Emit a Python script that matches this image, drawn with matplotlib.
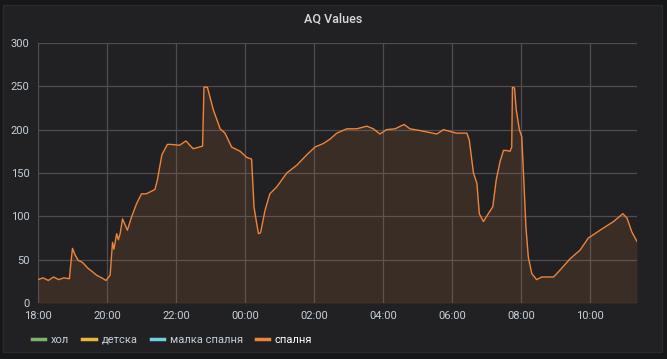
import matplotlib.pyplot as plt
from matplotlib.patches import Rectangle
from matplotlib.lines import Line2D

plt.rcParams['font.family'] = ['Roboto', 'DejaVu Sans']

# hours after 18:00 and AQ value for "спалня"
hours = [0.0, 0.15, 0.3, 0.45, 0.6, 0.75, 0.91, 0.95, 1.0, 1.08, 1.17, 1.24, 1.31, 1.45,
         1.58, 1.70, 1.85, 1.97, 2.09, 2.16, 2.20, 2.28, 2.33, 2.38, 2.45, 2.59, 2.71,
         2.86, 3.0, 3.14, 3.39, 3.46, 3.59, 3.75, 3.85, 4.1, 4.29, 4.4, 4.5, 4.77,
         4.81, 4.91, 5.08, 5.28, 5.42, 5.61, 5.86, 6.05, 6.19, 6.26, 6.32, 6.39, 6.45,
         6.58, 6.72, 6.92, 7.21, 7.5, 7.79, 8.03, 8.27, 8.46, 8.66, 8.95, 9.24, 9.53,
         9.72, 9.91, 10.1, 10.35, 10.61, 10.78, 11.07, 11.56, 11.75, 12.13, 12.43,
         12.5, 12.62, 12.72, 12.79, 12.91, 13.05, 13.18, 13.28, 13.39, 13.49, 13.58,
         13.68, 13.73, 13.75, 13.81, 13.86, 13.95, 14.02, 14.07, 14.14, 14.21, 14.31,
         14.45, 14.6, 14.94, 15.13, 15.42, 15.71, 15.95, 16.29, 16.68, 16.95, 17.07,
         17.21, 17.36]
spalnya = [27, 29, 26, 30, 27, 29, 28, 45, 63, 55, 49, 48, 46, 40,
           36, 32, 29, 26, 32, 70, 62, 80, 73, 80, 97, 84, 99,
           115, 126, 126, 131, 142, 171, 183, 183, 182, 187, 182, 178, 181,
           249, 249, 223, 201, 196, 180, 175, 168, 166, 111, 96, 80, 81,
           107, 126, 134, 150, 159, 171, 180, 184, 189, 196, 201, 201, 204,
           201, 195, 200, 201, 206, 201, 199, 195, 200, 196, 196,
           188, 150, 138, 103, 94, 103, 111, 142, 163, 176, 176,
           175, 180, 249, 248, 223, 200, 192, 150, 88, 53, 34,
           27, 30, 30, 38, 51, 61, 75, 84, 94, 103, 98,
           82, 71]

series = ["хол", "детска", "малка спалня", "спалня"]
colors = ["#7EB26D", "#EAB839", "#6ED0E0", "#EF843C"]
tick_hours = [0, 2, 4, 6, 8, 10, 12, 14, 16]
tick_labels = ["18:00", "20:00", "22:00", "00:00", "02:00", "04:00", "06:00", "08:00", "10:00"]

fig = plt.figure(figsize=(6.67, 3.59), dpi=100, facecolor="#161719")
panel = Rectangle((3 / 667, 7 / 359), 659 / 667, 347 / 359, transform=fig.transFigure,
                  facecolor="#212124", edgecolor="#2a2a2d", lw=1, zorder=-5)
fig.add_artist(panel)
ax = fig.add_axes([38 / 667, 1 - 303 / 359, 599 / 667, 260 / 359])
ax.set_zorder(1)
ax.set_facecolor("#212124")

ax.fill_between(hours, spalnya, 0, color=colors[3], alpha=0.12, lw=0)
ax.plot(hours, spalnya, color=colors[3], lw=1)

ax.set_xlim(0, 17.36)
ax.set_ylim(0, 300)
ax.set_yticks(range(0, 301, 50))
ax.set_xticks(tick_hours)
ax.set_xticklabels(tick_labels)
ax.grid(True, color="#4d4d52", lw=0.9)
ax.set_axisbelow(True)
for s in ax.spines.values():
    s.set_visible(False)
ax.tick_params(length=0, colors="#c7d0d9", labelsize=8, pad=6)

fig.text(0.5, 1 - 19 / 359, "AQ Values", ha="center", va="center", color="#d8d9da",
         fontsize=9, fontweight="medium")

handles = [Line2D([], [], color=c, lw=2.5) for c in colors]
leg = ax.legend(handles, series, loc="center left", bbox_to_anchor=(22 / 667, 1 - 340 / 359),
                bbox_transform=fig.transFigure, ncol=4, frameon=False, fontsize=8,
                handlelength=1.2, handletextpad=0.5, columnspacing=1.2)
for t in leg.get_texts():
    t.set_color("#c7d0d9")
leg.get_texts()[3].set_color("#ffffff")

fig.savefig("out.png", dpi=100, facecolor=fig.get_facecolor())
